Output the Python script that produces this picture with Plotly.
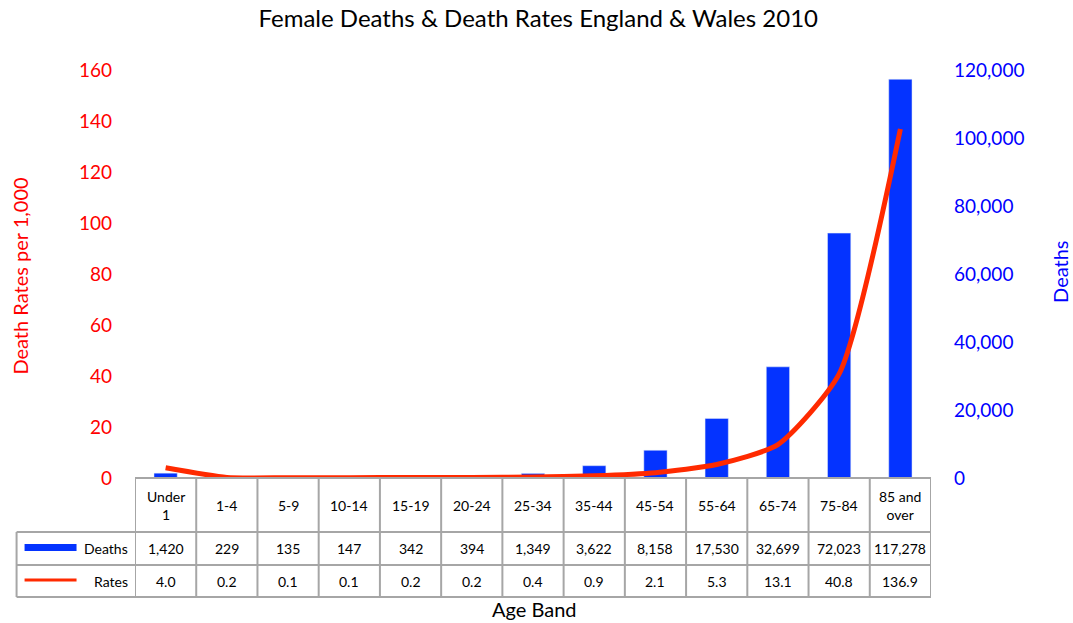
import plotly.graph_objects as go

age_bands = ["Under<br>1", "1-4", "5-9", "10-14", "15-19", "20-24", "25-34",
             "35-44", "45-54", "55-64", "65-74", "75-84", "85 and<br>over"]
deaths = [1420, 229, 135, 147, 342, 394, 1349, 3622, 8158, 17530, 32699, 72023, 117278]
rates = [4.0, 0.2, 0.1, 0.1, 0.2, 0.2, 0.4, 0.9, 2.1, 5.3, 13.1, 40.8, 136.9]

W, H = 1073, 623
L, R, T, B = 134.5, 931, 70, 478   # plot area in pixels
BLUE = "#0433FF"
RED = "#FF2A00"
GRID = "#A6A6A6"
FONT = "Lato"


def px(x):
    return (x - L) / (R - L)


def py(y):
    return (B - y) / (B - T)


fig = go.Figure()
# deaths on the (right-hand) primary axis so the rate line overlays the bars
fig.add_trace(go.Bar(x=list(range(len(age_bands))), y=deaths, name="Deaths",
                     marker_color=BLUE, width=0.38, yaxis="y"))
fig.add_trace(go.Scatter(x=list(range(len(age_bands))), y=rates, name="Rates", yaxis="y2",
                         mode="lines", line=dict(color=RED, width=5, shape="spline", smoothing=0.6)))

shapes = []
ann = []

# table grid
row_y = [478, 532, 565, 597]
n = len(age_bands)
xl = 16
for y in row_y:
    x0 = L if y == 478 else xl
    shapes.append(dict(type="line", xref="paper", yref="paper", x0=px(x0), x1=px(R),
                       y0=py(y), y1=py(y), line=dict(color=GRID, width=2)))
for i in range(n + 1):
    shapes.append(dict(type="line", xref="x", yref="paper", x0=i - 0.5, x1=i - 0.5,
                       y0=py(478), y1=py(597), line=dict(color=GRID, width=2)))
shapes.append(dict(type="line", xref="paper", yref="paper", x0=px(xl), x1=px(xl),
                   y0=py(532), y1=py(597), line=dict(color=GRID, width=2)))

# legend keys in the table
shapes.append(dict(type="rect", xref="paper", yref="paper", x0=px(24), x1=px(76),
                   y0=py(551), y1=py(544), fillcolor=BLUE, line=dict(width=0)))
shapes.append(dict(type="line", xref="paper", yref="paper", x0=px(24), x1=px(76),
                   y0=py(580), y1=py(580), line=dict(color=RED, width=3)))
for label, y in [("Deaths", 548.5), ("Rates", 581)]:
    ann.append(dict(text=label, xref="paper", yref="paper", x=px(129), y=py(y),
                    xanchor="right", yanchor="middle", showarrow=False,
                    font=dict(size=14, color="black")))

# table cells
for i in range(n):
    ann.append(dict(text=age_bands[i], x=i, xref="x", yref="paper", y=py(505),
                    yanchor="middle", showarrow=False, font=dict(size=14, color="black")))
    ann.append(dict(text=f"{deaths[i]:,}", x=i, xref="x", yref="paper", y=py(548.5),
                    yanchor="middle", showarrow=False, font=dict(size=14, color="black")))
    ann.append(dict(text=f"{rates[i]:.1f}", x=i, xref="x", yref="paper", y=py(581),
                    yanchor="middle", showarrow=False, font=dict(size=14, color="black")))

# axis titles
ann.append(dict(text="Age Band", xref="paper", yref="paper", x=px(534), y=py(609),
                yanchor="middle", showarrow=False, font=dict(size=20, color="black")))
ann.append(dict(text="Death Rates per 1,000", xref="paper", yref="paper", x=px(19), y=py(276),
                textangle=-90, xanchor="center", yanchor="middle", showarrow=False,
                font=dict(size=20, color="red")))
ann.append(dict(text="Deaths", xref="paper", yref="paper", x=px(1060), y=py(272),
                textangle=-90, xanchor="center", yanchor="middle", showarrow=False,
                font=dict(size=20, color="blue")))

fig.update_layout(
    width=W, height=H,
    margin=dict(l=L, r=W - R, t=T, b=H - B),
    paper_bgcolor="white", plot_bgcolor="white",
    font=dict(family=FONT, size=16),
    title=dict(text="Female Deaths & Death Rates England & Wales 2010",
               x=px(538), xref="paper", y=1 - 19 / H, yanchor="middle",
               font=dict(size=24, color="black")),
    showlegend=False,
    xaxis=dict(range=[-0.5, n - 0.5], showticklabels=False, showgrid=False,
               zeroline=False, ticks=""),
    yaxis=dict(range=[0, 120000], dtick=20000, side="right",
               showgrid=False, zeroline=False, tickformat=",",
               tickfont=dict(color="blue", size=19), ticklabelstandoff=22),
    yaxis2=dict(range=[0, 160], dtick=20, overlaying="y", side="left",
                showgrid=False, zeroline=False,
                tickfont=dict(color="red", size=19), ticklabelstandoff=22),
    shapes=shapes, annotations=ann,
)

# drop the page's default body margin so the figure sits at the window's corner
fig.write_html("out.html", config={"displayModeBar": False},
               post_script="document.body.style.margin='0';")
